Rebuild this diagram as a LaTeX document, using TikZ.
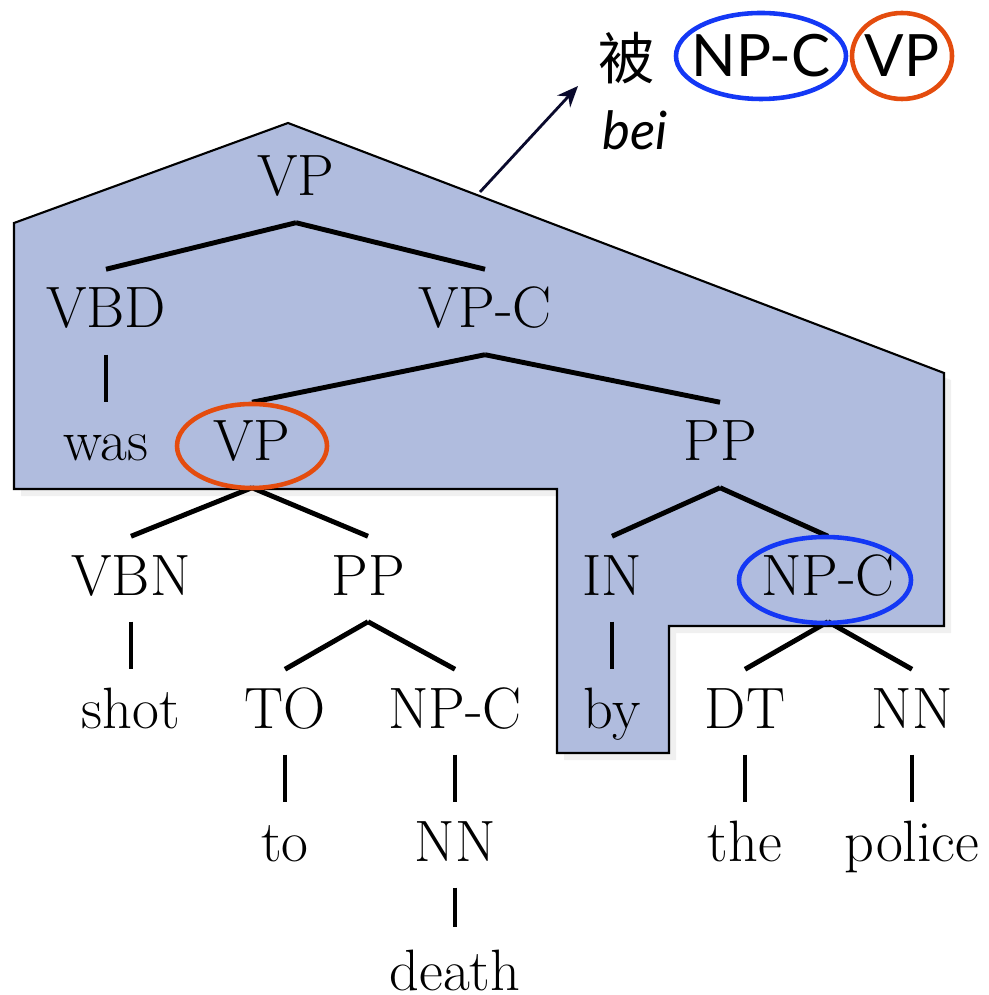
\documentclass[tikz,border=0pt]{standalone}
\usepackage{fontspec}
\newfontfamily\cjk{Noto Sans CJK SC}
\newfontfamily\gill{Lato}
\usetikzlibrary{arrows.meta,shadows}
\definecolor{regionblue}{RGB}{176,188,222}
\definecolor{ringorange}{RGB}{228,76,14}
\definecolor{ringblue}{RGB}{20,56,245}
\definecolor{arrownavy}{RGB}{10,10,45}
\tikzset{
  cat/.style={inner sep=0pt, anchor=base, text height=0.58cm, text depth=0.26cm,
    font=\fontsize{16.6}{20}\selectfont},
  branch/.style={line width=1.4pt},
  ring/.style={line width=1.3pt},
  sans/.style={inner sep=0pt, font=\gill\fontsize{16.6}{20}\selectfont},
}

\begin{document}
\begin{tikzpicture}[x=0.01cm,y=-0.01cm]
            \useasboundingbox (0,0) rectangle (988,995);
            % Draw the shaded region of the rule
            \filldraw[fill=regionblue, draw=black, line width=0.6pt,
              drop shadow={opacity=0.12, shadow xshift=2pt, shadow yshift=-2pt}]
              (288,123) -- (944,373) -- (944,626) -- (669,626) -- (669,753)
              -- (557,753) -- (557,489) -- (14,489) -- (14,223) -- cycle;
            %tree nodes
            \node[cat] (vp0)  at (296,196) {VP};
            \node[cat] (vbd)  at (106,328) {VBD};
            \node[cat] (vpc)  at (485,328) {VP-C};
            \node[cat] (was)  at (106,461) {was};
            \node[cat] (vp1)  at (252,461) {VP};
            \node[cat] (pp1)  at (720,461) {PP};
            \node[cat] (vbn)  at (131,595) {VBN};
            \node[cat] (pp2)  at (368,595) {PP};
            \node[cat] (in)   at (612,595) {IN};
            \node[cat] (npc1) at (828,595) {NP-C};
            \node[cat] (shot) at (131,728) {shot};
            \node[cat] (to)   at (285,728) {TO};
            \node[cat] (npc2) at (455,728) {NP-C};
            \node[cat] (by)   at (612,728) {by};
            \node[cat] (dt)   at (745,728) {DT};
            \node[cat] (nn1)  at (912,728) {NN};
            \node[cat] (wto)  at (285,861) {to};
            \node[cat] (nn2)  at (455,861) {NN};
            \node[cat] (the)  at (745,861) {the};
            \node[cat] (police) at (912,861) {police};
            \node[cat, text depth=0pt] (death) at (455,990) {death};
            %branches
            \foreach \a/\b in {vp0/vbd, vp0/vpc, vbd/was, vpc/vp1, vpc/pp1,
                vp1/vbn, vp1/pp2, pp1/in, pp1/npc1, vbn/shot, pp2/to, pp2/npc2,
                in/by, npc1/dt, npc1/nn1, to/wto, npc2/nn2, dt/the, nn1/police}
              \draw[branch] (\a.south) -- (\b.north);
            \draw[branch] (nn2.south) -- ([yshift=0.04cm]death.north);
            %marked variables
            \draw[ring, ringorange] ([yshift=0.15cm]vp1.base) ellipse [x radius=75, y radius=42];
            \draw[ring, ringblue] ([xshift=-0.03cm,yshift=0.15cm]npc1.base) ellipse [x radius=86, y radius=43];
            % target side
            \node[inner sep=0pt, font=\cjk\fontsize{16}{20}\selectfont] (bei) at (627,58) {被};
            \node[inner sep=0pt, font=\gill\itshape\fontsize{15}{18}\selectfont] (beipy) at (635,130) {bei};
            \node[sans] (tnp) at (761,56) {NP-C};
            \node[sans] (tvp) at (902,56) {VP};
            \draw[ring, ringblue] (tnp.center) ellipse [x radius=85, y radius=43];
            \draw[ring, ringorange] (tvp.center) ellipse [x radius=50, y radius=43];
            \coordinate (tail) at (480,192);
            \coordinate (head) at (578,86);
            \draw[arrownavy, line width=0.8pt, -{Stealth[length=6pt, width=5pt]}] (tail) -- (head);
        \end{tikzpicture}
\end{document}
